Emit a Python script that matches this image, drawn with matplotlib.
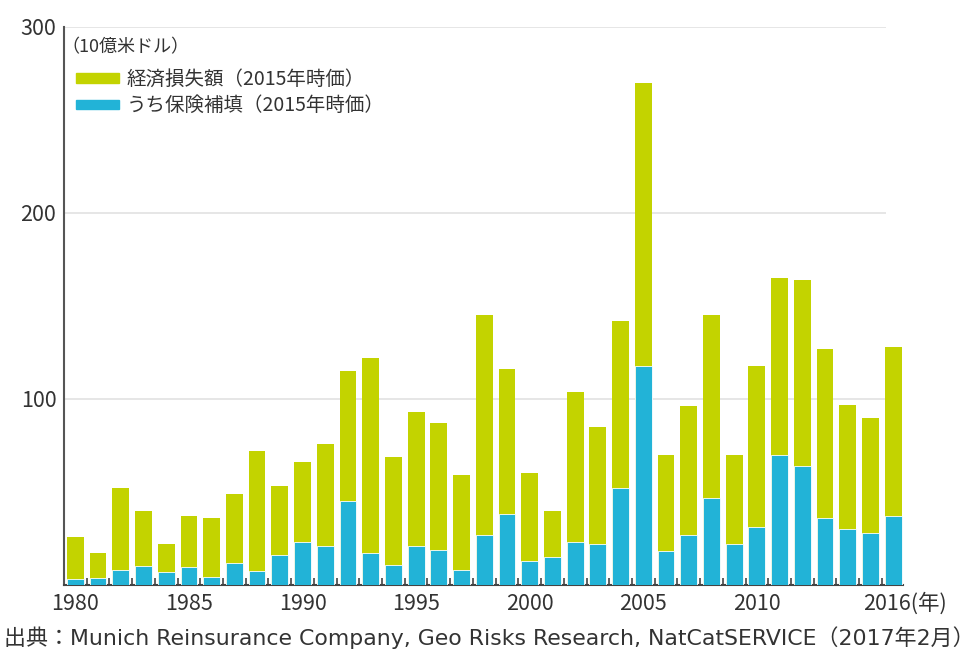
import matplotlib.pyplot as plt
import matplotlib.patches as mpatches
import numpy as np

plt.rcParams['font.family'] = ['Noto Sans CJK JP', 'DejaVu Sans']

years = list(range(1980, 2017))
# 経済損失額 (10億米ドル, 2015年時価)
economic = [26, 17, 52, 40, 22, 37, 36, 49, 72, 53,
            66, 76, 115, 122, 69, 93, 87, 59, 145, 116,
            60, 40, 104, 85, 142, 270, 70, 96, 145, 70,
            118, 165, 164, 127, 97, 90, 128]
# うち保険補填
insured = [3, 4, 8, 10, 7, 9.5, 4.5, 12, 7.5, 16,
           23, 21, 45, 17, 11, 21, 19, 8, 27, 38,
           13, 15, 23, 22, 52, 118, 18, 27, 47, 22,
           31, 70, 64, 36, 30, 28, 37]
xtick_years = [1980, 1985, 1990, 1995, 2000, 2005, 2010, 2016]
xtick_labels = ['1980', '1985', '1990', '1995', '2000', '2005', '2010', '']
ytick_vals = [100, 200, 300]

green = '#c3d300'
blue = '#22b3d7'
txt = '#333333'

fig = plt.figure(figsize=(9.75, 6.52), dpi=100)
ax = fig.add_axes([0.0656, 0.1028, 0.861, 0.8558])

ax.hlines([100, 200, 300], 1979.5, 2015.7, color='#e2e2e2', lw=1.2, zorder=0)

x = np.array(years)
ax.bar(x, economic, width=0.74, color=green, zorder=2)
ax.bar(x, insured, width=0.74, color=blue, edgecolor='white', lw=0.6, zorder=3)

ax.set_xlim(1979.5, 2016.45)
ax.set_ylim(0, 300)

for s in ['top', 'right']:
    ax.spines[s].set_visible(False)
ax.spines['left'].set_color('#555555')
ax.spines['left'].set_linewidth(1.5)
ax.spines['bottom'].set_color('#444444')
ax.spines['bottom'].set_linewidth(1.5)

ax.set_yticks(ytick_vals)
ax.set_yticklabels([str(v) for v in ytick_vals], fontsize=15.5, color=txt)
ax.tick_params(axis='y', length=0, pad=5.5)

ax.set_xticks(xtick_years)
ax.set_xticklabels(xtick_labels, fontsize=15.5, color=txt)
ax.tick_params(axis='x', which='major', length=0, pad=5.5)
ax.set_xticks(np.arange(1980.5, 2016.5, 1), minor=True)
ax.tick_params(axis='x', which='minor', direction='in', length=5, width=1.2, color='#444444')

# last year label with unit
ax.annotate('2016(年)', xy=(2016, 0), xycoords=ax.get_xaxis_transform(),
            xytext=(-30, -7.6), textcoords='offset pixels',
            fontsize=15.5, color=txt, ha='left', va='top')

# legend
ax.text(-0.003, 0.964, '（10億米ドル）', transform=ax.transAxes, fontsize=13,
        color=txt, ha='left', va='center')
handles = [mpatches.Patch(color=green, label='経済損失額（2015年時価）'),
           mpatches.Patch(color=blue, label='うち保険補填（2015年時価）')]
ax.legend(handles=handles, loc='upper left', bbox_to_anchor=(0.0143, 0.925),
          frameon=False, fontsize=14, handlelength=2.2, handleheight=0.36,
          handletextpad=0.4, labelspacing=0.28, borderaxespad=0, borderpad=0,
          labelcolor=txt)

fig.text(0.004, 0.022, '出典：Munich Reinsurance Company, Geo Risks Research, NatCatSERVICE（2017年2月）',
         fontsize=15.8, color=txt, ha='left', va='center',
         family=['DejaVu Sans', 'Noto Sans CJK JP'])

fig.savefig('out.png', dpi=100)
